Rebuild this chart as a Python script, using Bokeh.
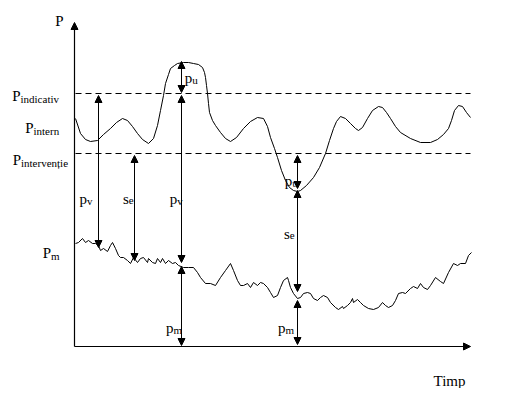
from bokeh.plotting import figure
from bokeh.models import Range1d, Arrow, NormalHead, ColumnDataSource
from bokeh.core.properties import value
from bokeh.embed import file_html
from bokeh.resources import INLINE

# ---- data (t = time units, P = pressure units) ----
intern_t = [1, 6, 11, 16, 23, 29, 36, 42, 48, 53, 58, 63, 68, 74, 79, 83, 86, 89, 91, 94, 96, 100, 103,
            109, 114, 119, 124, 128, 130, 131, 132, 133, 134, 135, 138, 141, 146, 151, 156, 162, 169, 176,
            183, 189, 193, 196, 200, 203, 207, 211, 215, 219, 223, 226, 232, 239, 245, 251, 255, 259, 262,
            266, 271, 276, 281, 284, 288, 293, 298, 304, 308, 312, 316, 321, 326, 336, 346, 356, 363, 369,
            374, 377, 380, 384, 388, 392, 396]
intern_P = [228, 213, 207, 205, 206, 212, 218, 224, 228, 226, 220, 213, 207, 203, 208, 221, 236, 251, 263,
            272, 278, 281, 283, 284, 284, 283, 282, 279, 274, 269, 261, 253, 243, 234, 226, 221, 214, 208,
            205, 209, 218, 225, 229, 228, 220, 209, 198, 189, 176, 166, 159, 156, 155, 156, 161, 169, 179,
            193, 206, 218, 225, 230, 228, 223, 218, 216, 219, 228, 236, 240, 239, 234, 228, 220, 214, 208,
            204, 204, 207, 212, 218, 226, 236, 241, 240, 234, 229]

mean_t = [1, 4, 8, 11, 14, 18, 21, 24, 26, 29, 33, 36, 38, 41, 44, 46, 49, 53, 56, 59, 63, 66, 69, 73, 74,
          78, 81, 83, 86, 88, 91, 94, 98, 101, 104, 109, 114, 119, 123, 126, 131, 136, 141, 146, 151, 156,
          159, 163, 166, 169, 173, 176, 179, 183, 186, 189, 193, 196, 199, 203, 206, 209, 213, 214, 216,
          219, 223, 226, 229, 233, 236, 239, 243, 246, 249, 253, 256, 261, 264, 268, 269, 273, 276, 278,
          279, 283, 286, 289, 294, 299, 304, 308, 311, 314, 318, 321, 324, 328, 331, 336, 339, 343, 346,
          349, 353, 356, 361, 366, 369, 374, 379, 383, 386, 391, 394, 397]
mean_P = [103, 104, 108, 104, 106, 103, 103, 101, 96, 98, 95, 101, 104, 98, 91, 89, 89, 86, 83, 89, 84, 88,
          89, 84, 88, 84, 83, 88, 84, 88, 83, 86, 83, 84, 81, 79, 79, 79, 74, 69, 63, 63, 61, 69, 76, 83,
          76, 66, 61, 61, 63, 59, 64, 61, 64, 63, 59, 54, 49, 51, 59, 66, 69, 66, 59, 53, 48, 49, 53, 54,
          53, 48, 46, 49, 51, 49, 44, 39, 37, 40, 38, 41, 44, 48, 44, 47, 44, 41, 38, 37, 39, 44, 41, 39,
          41, 46, 53, 54, 53, 58, 60, 58, 63, 59, 57, 61, 69, 65, 63, 74, 83, 81, 83, 83, 91, 94]

P_indicativ = 253
P_interventie = 193
axis_t_end = 396
axis_P_end = 324

# measurement arrows (double-headed)
arrow_t = [24, 60, 107, 107, 107, 223, 223, 223]
arrow_P_low = [99, 86, 254, 84, 1, 158, 55, 2]
arrow_P_high = [251, 191, 285, 251, 80, 191, 156, 46]

# level labels (P with subscript), anchored at the letter/subscript boundary, baseline
lvl_main = ["P", "P", "P", "P"]
lvl_sub = ["indicativ", "intern", "intervenție", "m"]
lvl_t = [-54, -41, -53.5, -23.5]
lvl_P = [251, 219, 187, 94]

# quantity labels on the arrows
q_main = ["p", "s", "p", "p", "p", "p", "s", "p"]
q_sub = ["v", "e", "v", "u", "m", "u", "e", "m"]
q_t = [12.5, 54.3, 102.7, 117.7, 99, 217.7, 215.3, 211]
q_P = [148, 148, 148, 269, 19, 166, 113, 19]

axis_labels = ["P", "Timp"]
axis_lab_t = [-15, 375]
axis_lab_P = [326, -34]

# ---- figure ----
p = figure(width=500, height=388, output_backend="svg", toolbar_location=None,
           x_range=Range1d(-74, 426), y_range=Range1d(-42, 346),
           x_axis_type=None, y_axis_type=None, min_border=0)
p.outline_line_color = None
p.grid.visible = False
p.background_fill_color = "white"

FONT = value("serif")

# curves
p.line(intern_t, intern_P, line_color="black", line_width=1)
p.line(mean_t, mean_P, line_color="black", line_width=1)

# dashed reference levels
p.segment(x0=[1, 1], y0=[P_indicativ, P_interventie], x1=[axis_t_end, axis_t_end],
          y1=[P_indicativ, P_interventie], line_color="black", line_width=1, line_dash="6 4")

def head():
    return NormalHead(size=7, fill_color="black", line_color="black", line_width=1)

# axes
ax_src = ColumnDataSource(dict(x0=[0, 0], y0=[0, 0], x1=[0, axis_t_end], y1=[axis_P_end, 0]))
p.add_layout(Arrow(x_start="x0", y_start="y0", x_end="x1", y_end="y1", source=ax_src,
                   end=head(), line_color="black", line_width=1.2))

# measurement arrows
ar_src = ColumnDataSource(dict(x=arrow_t, lo=arrow_P_low, hi=arrow_P_high))
p.add_layout(Arrow(x_start="x", y_start="lo", x_end="x", y_end="hi", source=ar_src,
                   start=head(), end=head(), line_color="black", line_width=1))

# level labels
p.text(lvl_t, lvl_P, text=lvl_main, text_font=FONT, text_font_size=value("15px"),
       text_align="right", text_baseline="alphabetic", text_color="black")
p.text(lvl_t, lvl_P, text=lvl_sub, text_font=FONT, text_font_size=value("11px"),
       text_align="left", text_baseline="alphabetic", text_color="black", y_offset=3)

# quantity labels
p.text(q_t, q_P, text=q_main, text_font=FONT, text_font_size=value("15px"),
       text_align="right", text_baseline="alphabetic", text_color="black")
p.text(q_t, q_P, text=q_sub, text_font=FONT, text_font_size=value("11px"),
       text_align="left", text_baseline="alphabetic", text_color="black", y_offset=2)

# axis labels
p.text(axis_lab_t, axis_lab_P, text=axis_labels, text_font=FONT, text_font_size=value("15px"),
       text_align="center", text_baseline="alphabetic", text_color="black")

open("out.html", "w").write(file_html(p, INLINE))
